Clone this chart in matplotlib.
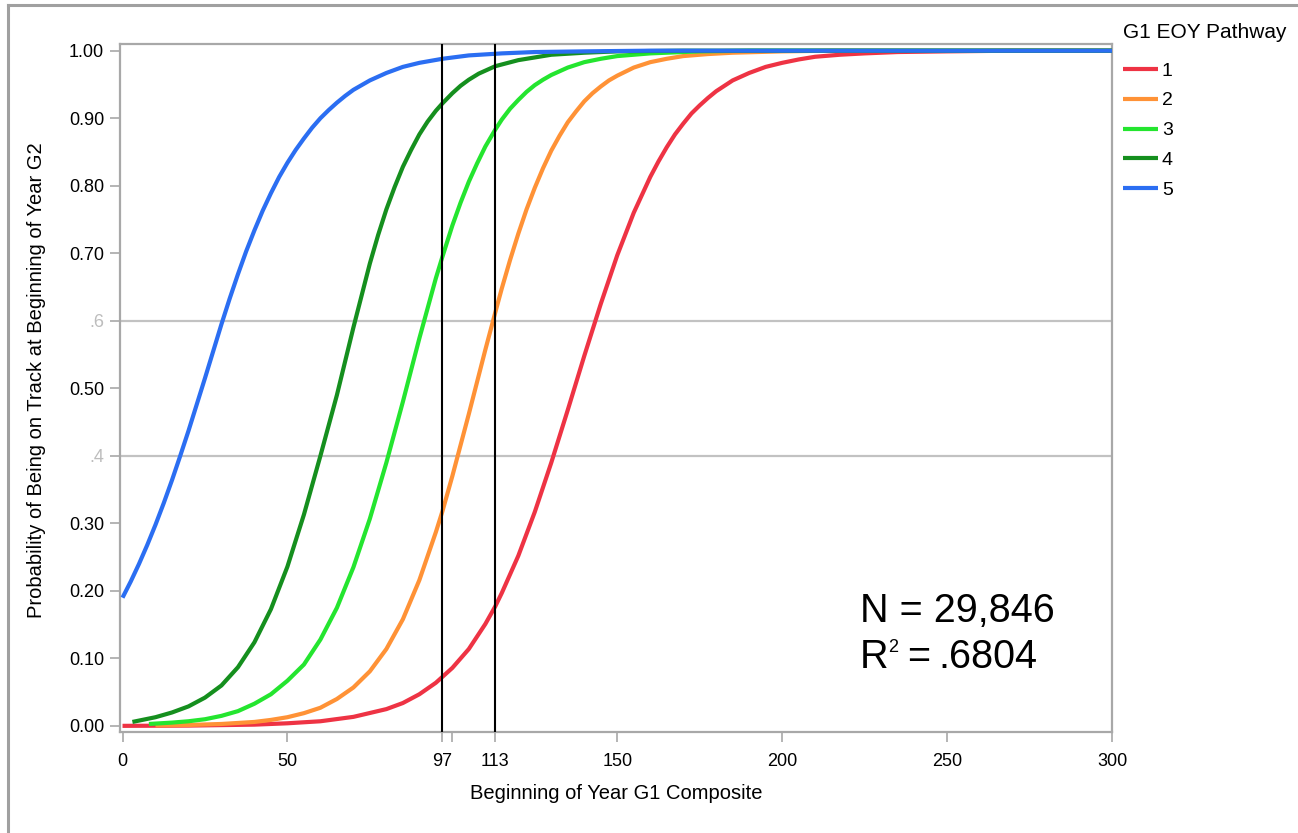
import matplotlib
matplotlib.use("Agg")
import matplotlib.pyplot as plt
from matplotlib.lines import Line2D

plt.rcParams["font.family"] = ["Liberation Sans", "DejaVu Sans"]

# curve readings, x = Beginning of Year G1 Composite, y = probability
x_p1 = [0, 20, 40, 50, 60, 70, 80, 85, 90, 95, 100, 105, 110, 113, 115, 120, 125, 130,
        135, 140, 145, 150, 155, 160, 162.5, 165, 167.5, 170, 172.5, 175, 177.5, 180, 185,
        190, 195, 200, 205, 210, 217.5, 225, 235, 250, 270, 300]
y_p1 = [0.0002, 0.0006, 0.002, 0.004, 0.007, 0.0135, 0.025, 0.034, 0.047, 0.064, 0.086,
        0.114, 0.151, 0.177, 0.197, 0.252, 0.317, 0.39, 0.468, 0.548, 0.625, 0.697, 0.76,
        0.813, 0.836, 0.857, 0.876, 0.892, 0.907, 0.919, 0.93, 0.94, 0.956, 0.967, 0.976,
        0.982, 0.987, 0.991, 0.994, 0.996, 0.998, 0.999, 1.0, 1.0]

x_p2 = [10, 20, 30, 40, 45, 50, 55, 60, 65, 70, 75, 80, 85, 90, 95, 97, 100, 105, 110,
        113, 115, 117.5, 120, 122.5, 125, 127.5, 130, 132.5, 135, 137.5, 140, 142.5, 145,
        147.5, 150, 155, 160, 165, 170, 177.5, 185, 200, 215, 300]
y_p2 = [0.001, 0.0015, 0.003, 0.006, 0.009, 0.013, 0.019, 0.027, 0.04, 0.057, 0.081,
        0.114, 0.158, 0.216, 0.287, 0.318, 0.37, 0.462, 0.557, 0.612, 0.648, 0.69, 0.729,
        0.765, 0.797, 0.826, 0.852, 0.874, 0.894, 0.91, 0.925, 0.937, 0.947, 0.956, 0.963,
        0.975, 0.983, 0.988, 0.992, 0.995, 0.997, 0.999, 1.0, 1.0]

x_p3 = [8, 15, 20, 25, 30, 35, 40, 45, 50, 55, 60, 65, 70, 75, 80, 85, 90, 95, 97, 100,
        102.5, 105, 107.5, 110, 113, 115, 117.5, 120, 122.5, 125, 127.5, 130, 135, 140,
        145, 150, 160, 175, 190, 300]
y_p3 = [0.003, 0.005, 0.007, 0.01, 0.015, 0.022, 0.033, 0.047, 0.067, 0.091, 0.128,
        0.175, 0.235, 0.307, 0.39, 0.48, 0.574, 0.663, 0.695, 0.741, 0.775, 0.806, 0.833,
        0.858, 0.883, 0.898, 0.914, 0.927, 0.939, 0.949, 0.957, 0.964, 0.975, 0.983, 0.988,
        0.992, 0.996, 0.999, 1.0, 1.0]

x_p4 = [3, 10, 15, 20, 25, 30, 35, 40, 45, 50, 55, 60, 65, 70, 75, 77.5, 80, 82.5, 85,
        87.5, 90, 92.5, 95, 97, 100, 102.5, 105, 108, 113, 120, 125, 130, 140, 150, 170, 300]
y_p4 = [0.006, 0.013, 0.02, 0.029, 0.042, 0.06, 0.087, 0.124, 0.173, 0.236, 0.313, 0.40,
        0.49, 0.59, 0.685, 0.727, 0.765, 0.798, 0.828, 0.853, 0.876, 0.895, 0.911, 0.922,
        0.937, 0.948, 0.957, 0.966, 0.977, 0.986, 0.99, 0.994, 0.997, 0.999, 1.0, 1.0]

x_p5 = [0, 2.5, 5, 7.5, 10, 12.5, 15, 17.5, 20, 22.5, 25, 27.5, 30, 32.5, 35, 37.5, 40,
        42.5, 45, 47.5, 50, 52.5, 55, 57.5, 60, 62.5, 65, 67.5, 70, 75, 80, 85, 90, 97,
        105, 115, 125, 140, 160, 300]
y_p5 = [0.19, 0.214, 0.24, 0.268, 0.298, 0.33, 0.364, 0.40, 0.437, 0.476, 0.515, 0.555,
        0.595, 0.633, 0.669, 0.703, 0.734, 0.763, 0.789, 0.813, 0.834, 0.853, 0.87, 0.886,
        0.90, 0.912, 0.923, 0.933, 0.942, 0.956, 0.967, 0.976, 0.982, 0.988, 0.993, 0.996,
        0.998, 0.999, 1.0, 1.0]

pathways = ["1", "2", "3", "4", "5"]
colors = ["#EE3344", "#FF9236", "#24E52F", "#158F1E", "#2B6EF2"]
cutoffs = [97, 113]
ref_lines = [0.4, 0.6]

xticks = [0, 50, 97, 100, 113, 150, 200, 250, 300]
xtick_labels = ["0", "50", "97", "", "113", "150", "200", "250", "300"]
yticks = [0, 0.1, 0.2, 0.3, 0.4, 0.5, 0.6, 0.7, 0.8, 0.9, 1.0]
ytick_labels = ["0.00", "0.10", "0.20", "0.30", ".4", "0.50", ".6", "0.70", "0.80", "0.90", "1.00"]

W, H = 1298, 833
fig = plt.figure(figsize=(W / 100, H / 100), dpi=100)
ax = fig.add_axes([120 / W, 101 / H, 992 / W, 688 / H])

for yv in ref_lines:
    ax.axhline(yv, color="#c2c2c2", lw=1.6, zorder=1)

series = [(x_p1, y_p1), (x_p2, y_p2), (x_p3, y_p3), (x_p4, y_p4), (x_p5, y_p5)]
for (xs, ys), name, c in zip(series, pathways, colors):
    ax.plot(xs, ys, color=c, lw=3.0, label=name, zorder=3,
            solid_capstyle="butt", solid_joinstyle="round")

for xv in cutoffs:
    ax.axvline(xv, color="black", lw=1.5, zorder=4)

ax.set_xlim(-0.76, 300)
ax.set_ylim(-0.0089, 1.0099)

ax.set_xticks(xticks)
ax.set_xticklabels(xtick_labels)
ax.set_yticks(yticks)
ax.set_yticklabels(ytick_labels)
ax.tick_params(axis="both", length=7.5, width=1.2, color="#a8a8a8", labelsize=13)
ax.tick_params(axis="x", pad=7.5)
ax.tick_params(axis="y", pad=4)

for t, v in zip(ax.xaxis.get_major_ticks(), xticks):
    if v in cutoffs:
        t.tick1line.set_color("black")
for lab, v in zip(ax.get_yticklabels(), yticks):
    if v in ref_lines:
        lab.set_color("#bdbdbd")

for s in ax.spines.values():
    s.set_color("#a8a8a8")
    s.set_linewidth(1.6)

ax.set_xlabel("Beginning of Year G1 Composite", fontsize=14.5, labelpad=10)
ax.set_ylabel("Probability of Being on Track at Beginning of Year G2", fontsize=14.5)
ax.yaxis.set_label_coords(-0.075, 0.512)

# fit statistics
ax.text(0.746, 0.1599, "N = 29,846", transform=ax.transAxes, fontsize=28.5,
        va="baseline", ha="left")
ax.text(0.746, 0.0923, "R", transform=ax.transAxes, fontsize=28.5, va="baseline", ha="left")
ax.text(0.7745, 0.1156, "2", transform=ax.transAxes, fontsize=13, va="baseline", ha="left")
ax.text(0.7934, 0.0923, "=", transform=ax.transAxes, fontsize=28.5, va="baseline", ha="left")
ax.text(0.8246, 0.0923, ".6804", transform=ax.transAxes, fontsize=28.5,
        va="baseline", ha="left")

# legend
fig.text(1123 / W, 1 - 32 / H, "G1 EOY Pathway", fontsize=15, ha="left", va="center")
ax.legend(loc="upper left", bbox_to_anchor=(1123 / W, 1 - 62 / H),
          bbox_transform=fig.transFigure, frameon=False, fontsize=14,
          handlelength=1.8, handletextpad=0.2, labelspacing=0.63,
          borderpad=0, borderaxespad=0)

# outer frame
fig.add_artist(Line2D([8 / W, 8 / W], [0, 1 - 5 / H], transform=fig.transFigure,
                      color="#a0a0a0", lw=2.2))
fig.add_artist(Line2D([8 / W, 1], [1 - 5 / H, 1 - 5 / H], transform=fig.transFigure,
                      color="#a0a0a0", lw=2.2))

fig.savefig("out.png", dpi=100)
